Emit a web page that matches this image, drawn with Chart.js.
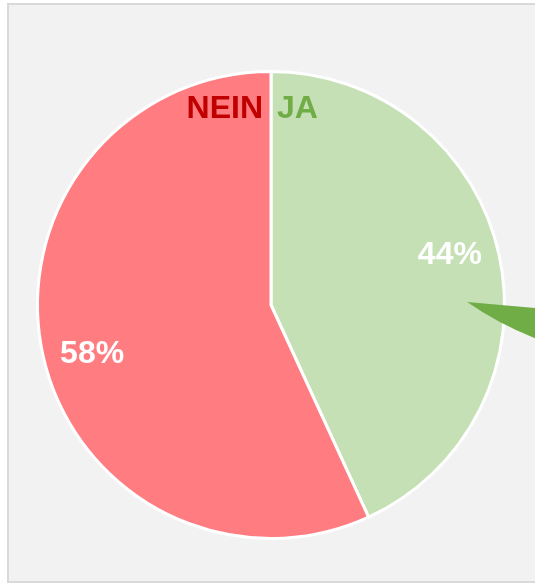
<!DOCTYPE html>
<html>
<head>
<meta charset="utf-8">
<script src="https://cdn.jsdelivr.net/npm/chart.js@4.4.1/dist/chart.umd.min.js"></script>
<style>
  html, body { margin: 0; padding: 0; background: #ffffff; overflow: hidden; }
  canvas { display: block; }
</style>
</head>
<body>
<canvas id="c" width="535" height="583"></canvas>
<script>
// Data
const categories = ["JA", "NEIN"];
const values = [44, 58];
const valueLabels = ["44%", "58%"];
const sliceColors = ["#c5e0b4", "#ff7c80"];
const nameColors = ["#70ad47", "#c00000"];

const framePlugin = {
  id: 'framePlugin',
  beforeDraw(chart) {
    const ctx = chart.ctx;
    ctx.save();
    ctx.fillStyle = '#ffffff';
    ctx.fillRect(0, 0, chart.width, chart.height);
    ctx.fillStyle = '#d9d9d9';
    ctx.fillRect(7, 3, chart.width + 20, chart.height);
    ctx.fillStyle = '#f2f2f2';
    ctx.fillRect(9, 5, chart.width + 20, chart.height - 7);
    ctx.restore();
  }
};

const labelPlugin = {
  id: 'labelPlugin',
  afterDatasetsDraw(chart) {
    const ctx = chart.ctx;
    const meta = chart.getDatasetMeta(0);
    const arc0 = meta.data[0];
    const cx = arc0.x, cy = arc0.y, r = arc0.outerRadius;
    ctx.save();
    // percentage labels
    ctx.font = 'bold 32px "Liberation Sans", Arial, sans-serif';
    ctx.fillStyle = '#ffffff';
    ctx.textAlign = 'center';
    ctx.textBaseline = 'middle';
    meta.data.forEach((a, i) => {
      const mid = (a.startAngle + a.endAngle) / 2 - 0.055;
      const rr = r * 0.795;
      ctx.fillText(valueLabels[i], cx + Math.cos(mid) * rr, cy + Math.sin(mid) * rr);
    });
    // category names near the top split
    ctx.font = 'bold 32px "Liberation Sans", Arial, sans-serif';
    ctx.textBaseline = 'alphabetic';
    const by = cy - r + 46;
    ctx.fillStyle = nameColors[1];
    ctx.textAlign = 'right';
    ctx.fillText(categories[1], cx - 8, by);
    ctx.fillStyle = nameColors[0];
    ctx.textAlign = 'left';
    ctx.fillText(categories[0], cx + 6, by);
    // green pointer shape (cut off at the right edge)
    const tx = cx + r * 0.84, ty = cy - 3;
    ctx.fillStyle = '#70ad47';
    ctx.beginPath();
    ctx.moveTo(tx, ty);
    ctx.lineTo(tx + 90, ty + 8);
    ctx.lineTo(tx + 90, ty + 44);
    ctx.quadraticCurveTo(tx + 40, ty + 28, tx, ty);
    ctx.closePath();
    ctx.fill();
    ctx.restore();
  }
};

new Chart(document.getElementById('c'), {
  type: 'pie',
  data: {
    labels: categories,
    datasets: [{
      data: values,
      backgroundColor: sliceColors,
      borderColor: '#ffffff',
      borderWidth: 3,
      hoverOffset: 0
    }]
  },
  options: {
    responsive: false,
    animation: false,
    events: [],
    layout: { padding: { left: 36, right: 29, top: 70, bottom: 43 } },
    plugins: {
      legend: { display: false },
      tooltip: { enabled: false },
      title: { display: false }
    }
  },
  plugins: [framePlugin, labelPlugin]
});
</script>
</body>
</html>
